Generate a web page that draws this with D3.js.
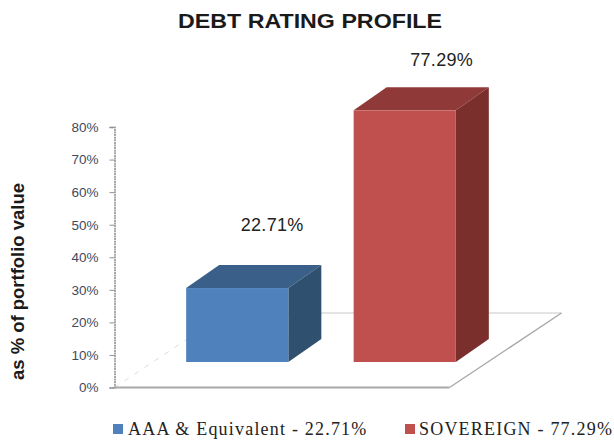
<!DOCTYPE html>
<html><head><meta charset="utf-8">
<script src="https://cdnjs.cloudflare.com/ajax/libs/d3/7.8.5/d3.min.js"></script>
<style>
html,body{margin:0;padding:0;background:#fff}
svg{display:block}
</style></head><body>
<svg id="c" width="614" height="441"></svg>
<script>
const categories = ["AAA & Equivalent", "SOVEREIGN"];
const values = [22.71, 77.29];
const tickValues = [0, 10, 20, 30, 40, 50, 60, 70, 80];
const chartTitle = "DEBT RATING PROFILE";
const yAxisTitle = "as % of portfolio value";
const frontColors = ["#4f81bd", "#c0504d"];
const topColors = ["#3a6089", "#8f3a38"];
const sideColors = ["#305070", "#7b2f2d"];

const svg = d3.select("#c");
const y = d3.scaleLinear().domain([0, 80]).range([387.5, 127]);
const x = d3.scaleBand().domain(categories).range([114.5, 449.5]).paddingInner(0.39).paddingOuter(0.195);
const floorD = {dx: 112, dy: -74.5};
const barOff = {dx: 39, dy: -25.5};
const barD = {dx: 33, dy: -23};
const labelOff = [{dx: 86, dy: -57}, {dx: 88, dy: -44}];
const fmt = v => v.toFixed(2) + "%";

// floor
const x0 = x.range()[0], x1 = x.range()[1], y0 = y(0);
svg.append("line").attr("x1", x0 + floorD.dx).attr("x2", x1 + floorD.dx)
  .attr("y1", y0 + floorD.dy).attr("y2", y0 + floorD.dy).attr("stroke", "#c8c8c8").attr("stroke-width", 1);
svg.append("line").attr("x1", x0).attr("y1", y0).attr("x2", x0 + floorD.dx).attr("y2", y0 + floorD.dy)
  .attr("stroke", "#dcdcdc").attr("stroke-dasharray", "5 7");
svg.append("line").attr("x1", x1).attr("y1", y0).attr("x2", x1 + floorD.dx).attr("y2", y0 + floorD.dy)
  .attr("stroke", "#a8a8a8").attr("stroke-width", 1.4);
svg.append("line").attr("x1", x0).attr("x2", x1).attr("y1", y0).attr("y2", y0)
  .attr("stroke", "#a8a8a8").attr("stroke-width", 2);

// axis
const axis = d3.axisLeft(y).tickValues(tickValues).tickSize(5).tickPadding(11).tickFormat(d => d + "%");
const gAxis = svg.append("g").attr("transform", `translate(${x0},0)`).call(axis);
gAxis.select(".domain").attr("stroke", "#a8a8a8").attr("stroke-width", 2).attr("stroke-dasharray", "2 0.6");
gAxis.selectAll(".tick line").attr("stroke", "#909090");
gAxis.selectAll("text").attr("font-family", "Liberation Sans, Arial, sans-serif").attr("font-size", 13.5)
  .attr("fill", "#3f4a5c");

// bars
const bars = svg.selectAll("g.bar").data(categories.map((c, i) => ({c, v: values[i], i}))).join("g").attr("class", "bar");
bars.each(function(d) {
  const g = d3.select(this);
  const l = x(d.c) + barOff.dx, r = l + x.bandwidth();
  const t = y(d.v) + barOff.dy, b = y(0) + barOff.dy;
  const poly = pts => pts.map(p => p.join(",")).join(" ");
  g.append("polygon").attr("points", poly([[l, t], [r, t], [r + barD.dx, t + barD.dy], [l + barD.dx, t + barD.dy]])).attr("fill", topColors[d.i]);
  g.append("polygon").attr("points", poly([[r, t], [r + barD.dx, t + barD.dy], [r + barD.dx, b + barD.dy], [r, b]])).attr("fill", sideColors[d.i]);
  g.append("rect").attr("x", l).attr("y", t).attr("width", x.bandwidth()).attr("height", b - t).attr("fill", frontColors[d.i]);
  g.append("text").attr("x", l + labelOff[d.i].dx).attr("y", t + labelOff[d.i].dy)
    .attr("text-anchor", "middle").attr("font-family", "Liberation Sans, Arial, sans-serif")
    .attr("font-size", 18).attr("letter-spacing", 0.3).attr("fill", "#222").text(fmt(d.v));
});

// titles
svg.append("text").attr("x", 310).attr("y", 28).attr("text-anchor", "middle")
  .attr("font-family", "Liberation Sans, Arial, sans-serif").attr("font-weight", 700).attr("font-size", 19.5)
  .attr("textLength", 264).attr("lengthAdjust", "spacingAndGlyphs")
  .attr("fill", "#1a1a1a").text(chartTitle);
svg.append("text").attr("transform", "translate(24,281.5) rotate(-90)").attr("text-anchor", "middle")
  .attr("font-family", "Liberation Sans, Arial, sans-serif").attr("font-weight", 700).attr("font-size", 18.5)
  .attr("textLength", 197).attr("lengthAdjust", "spacingAndGlyphs")
  .attr("fill", "#1a1a1a").text(yAxisTitle);

// legend
const legendX = [113, 405], legendTextX = [128, 419];
categories.forEach((c, i) => {
  svg.append("rect").attr("x", legendX[i]).attr("y", 424).attr("width", 10).attr("height", 10).attr("fill", frontColors[i]);
  svg.append("text").attr("x", legendTextX[i]).attr("y", 435)
    .attr("font-family", "Liberation Serif, Times New Roman, serif").attr("font-size", 18).attr("letter-spacing", 1.2)
    .attr("fill", "#222").text(`${c} - ${fmt(values[i])}`);
});
</script>
</body></html>
